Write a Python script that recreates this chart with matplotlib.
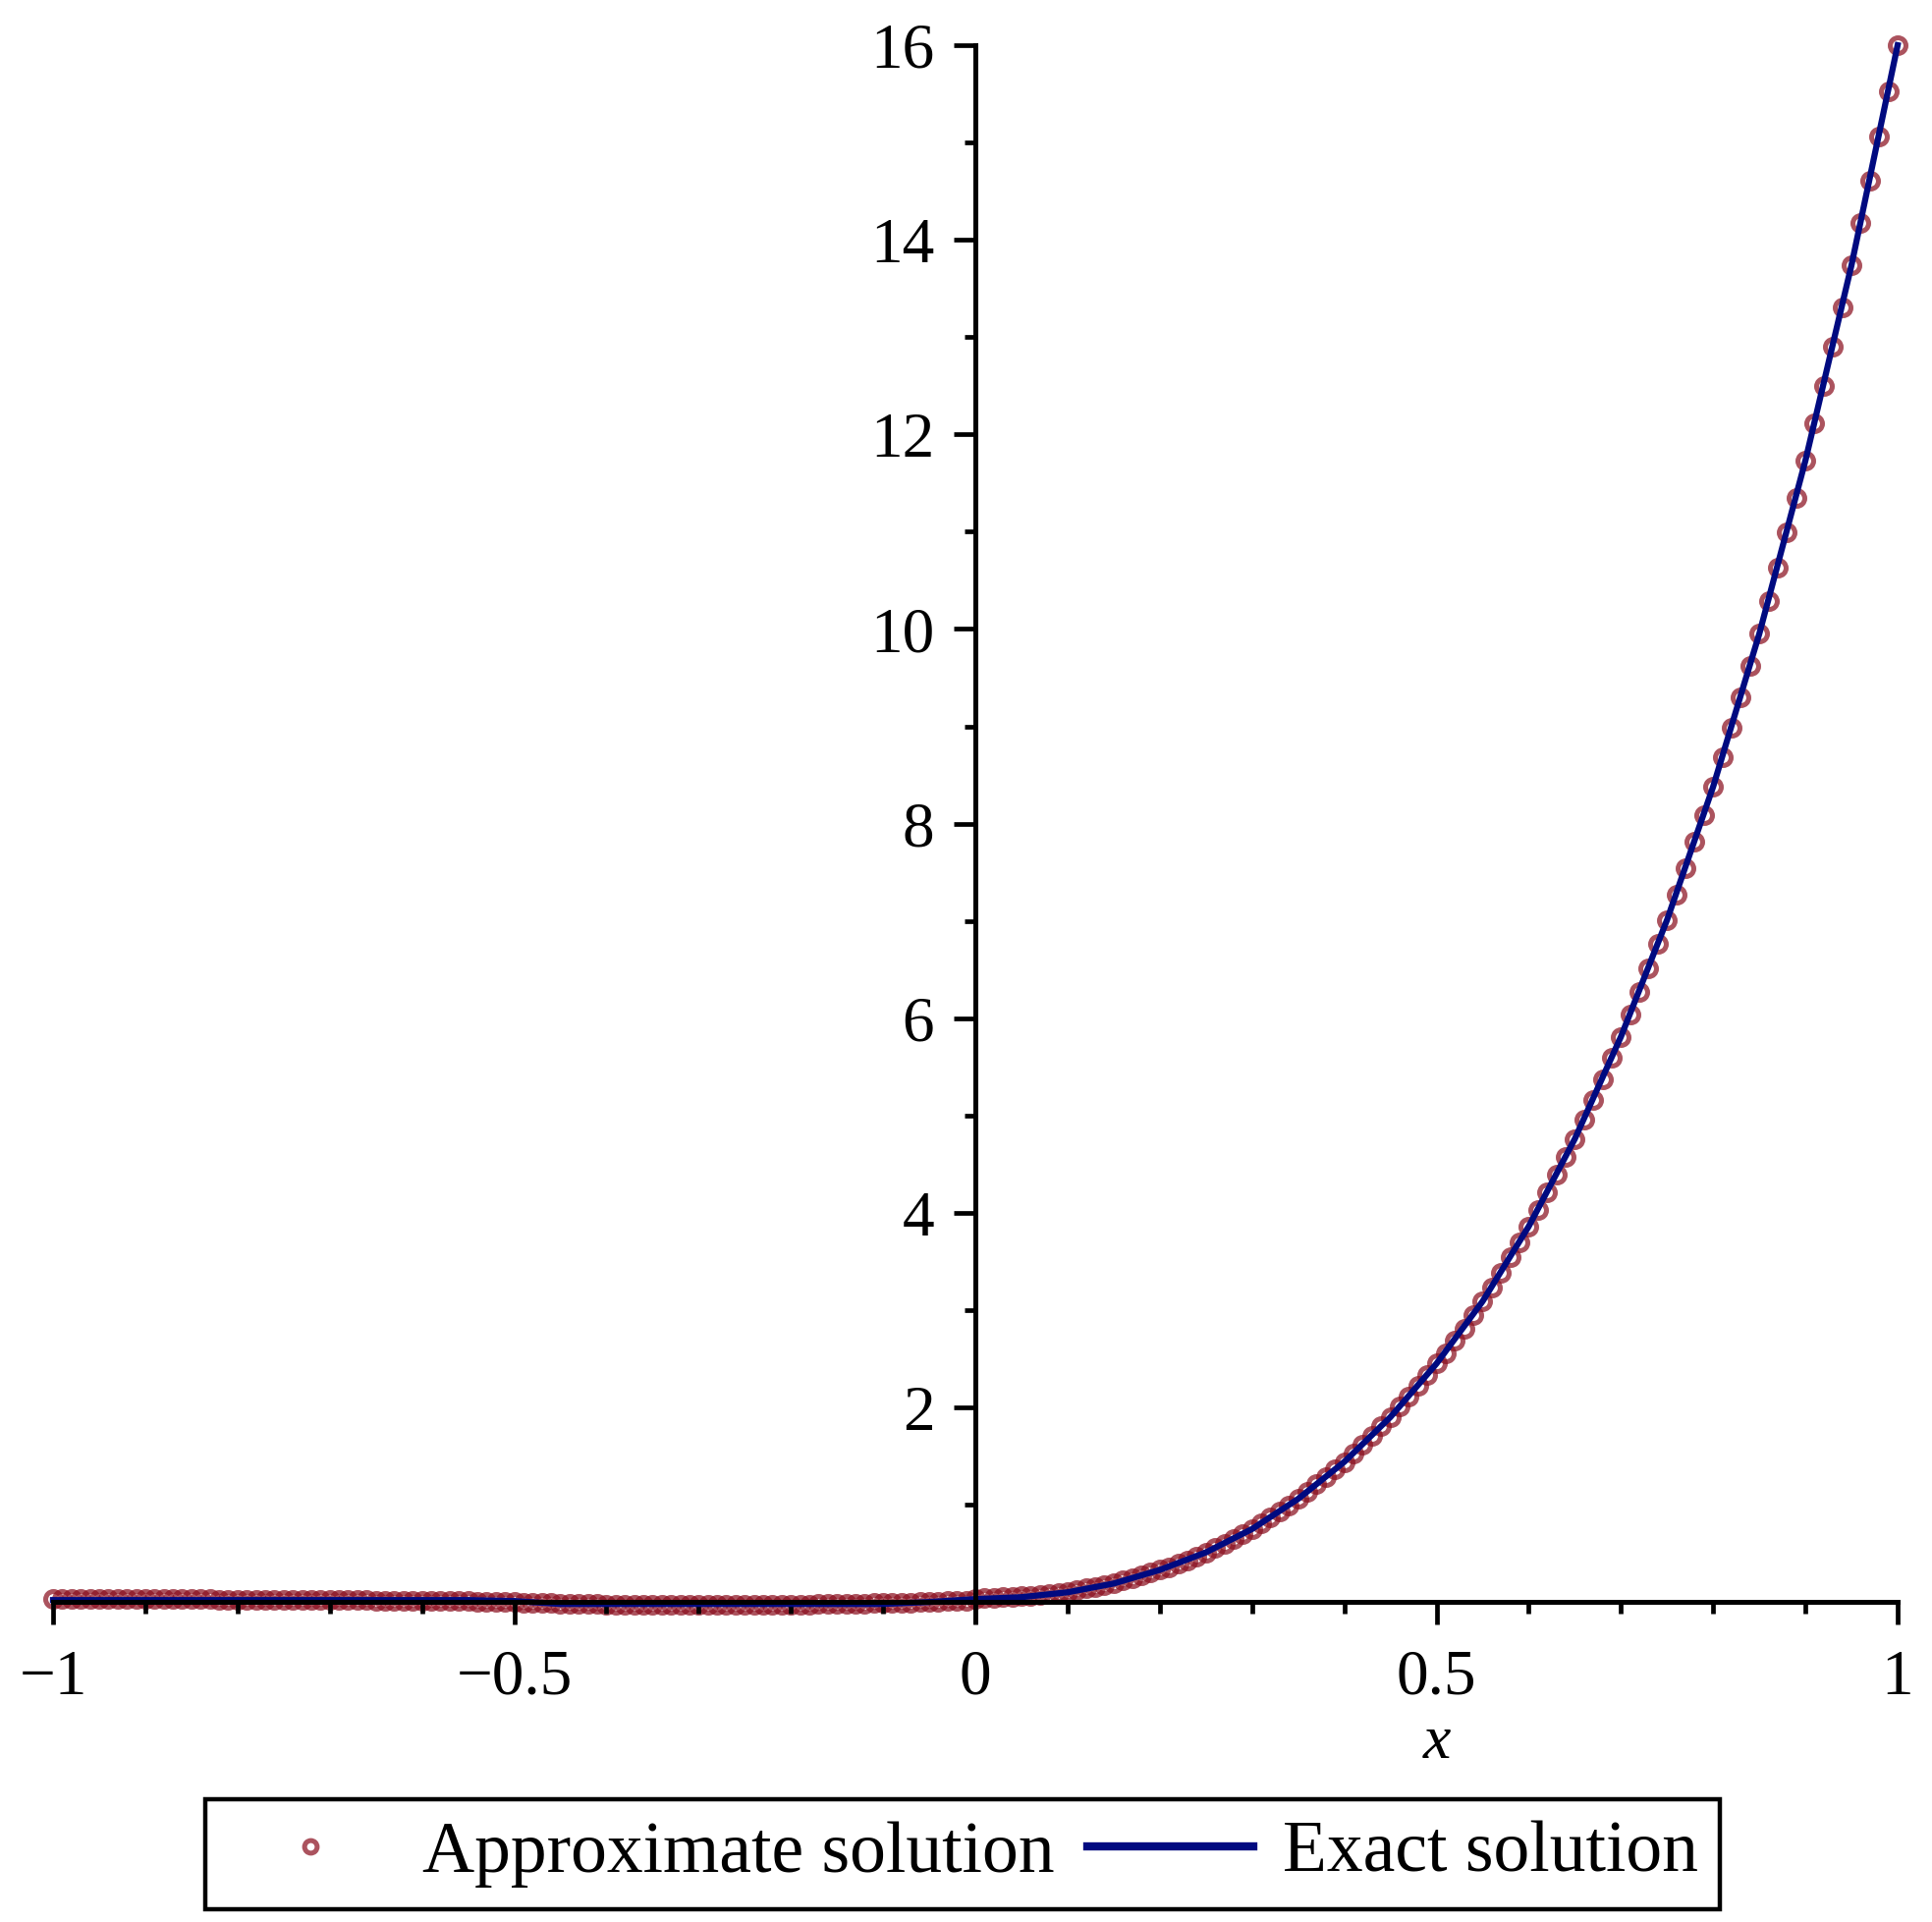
import numpy as np
from matplotlib import pyplot as plt
from matplotlib.ticker import MultipleLocator

# approximate solution, sampled every 0.01 from -1 to 1
approx_x = np.linspace(-1, 1, 201)
approx_y = [
    0.03, 0.03, 0.03, 0.03, 0.03, 0.03, 0.03, 0.03, 0.03, 0.03,
    0.03, 0.03, 0.03, 0.03, 0.03, 0.03, 0.03, 0.03, 0.02, 0.02,
    0.02, 0.02, 0.02, 0.02, 0.02, 0.02, 0.02, 0.02, 0.02, 0.02,
    0.02, 0.02, 0.02, 0.02, 0.02, 0.01, 0.01, 0.01, 0.01, 0.01,
    0.01, 0.01, 0.01, 0.01, 0.01, 0.01, 0.00, 0.00, 0.00, 0.00,
    0.00, -0.01, -0.01, -0.01, -0.01, -0.02, -0.02, -0.02, -0.02, -0.02,
    -0.03, -0.03, -0.03, -0.03, -0.03, -0.03, -0.03, -0.03, -0.03, -0.03,
    -0.03, -0.03, -0.03, -0.03, -0.03, -0.03, -0.03, -0.03, -0.03, -0.03,
    -0.03, -0.03, -0.03, -0.02, -0.02, -0.02, -0.02, -0.02, -0.02, -0.01,
    -0.01, -0.01, -0.01, -0.01, 0.00, 0.00, 0.00, 0.01, 0.01, 0.01,
    0.03, 0.04, 0.04, 0.05, 0.05, 0.06, 0.06, 0.07, 0.08, 0.09,
    0.10, 0.12, 0.14, 0.15, 0.17, 0.19, 0.22, 0.24, 0.27, 0.30,
    0.33, 0.36, 0.40, 0.43, 0.47, 0.51, 0.56, 0.60, 0.65, 0.70,
    0.75, 0.81, 0.87, 0.93, 0.99, 1.06, 1.13, 1.21, 1.28, 1.36,
    1.44, 1.53, 1.62, 1.71, 1.81, 1.90, 2.01, 2.11, 2.22, 2.33,
    2.45, 2.56, 2.69, 2.81, 2.95, 3.09, 3.23, 3.38, 3.54, 3.70,
    3.86, 4.03, 4.21, 4.39, 4.57, 4.76, 4.96, 5.16, 5.37, 5.59,
    5.81, 6.04, 6.27, 6.51, 6.76, 7.01, 7.27, 7.54, 7.81, 8.09,
    8.38, 8.68, 8.99, 9.30, 9.62, 9.95, 10.29, 10.63, 10.99, 11.35,
    11.73, 12.11, 12.50, 12.90, 13.31, 13.74, 14.17, 14.61, 15.06, 15.53,
    16.00,
]

# exact solution, every 0.05
exact_x = np.linspace(-1, 1, 41)
exact_y = [
    0.02, 0.02, 0.02, 0.02, 0.02, 0.02, 0.02, 0.02, 0.02, 0.02,
    0.01, -0.02, -0.02, -0.02, -0.02, -0.02, -0.02, -0.02, -0.02, 0.00,
    0.03, 0.05, 0.10, 0.19, 0.33, 0.51, 0.75, 1.06, 1.44, 1.90,
    2.45, 3.09, 3.86, 4.76, 5.81, 7.01, 8.38, 9.95, 11.73, 13.74,
    16.00,
]

xtick_vals = [-1, -0.5, 0, 0.5, 1]
xtick_labels = ["\u22121", "\u22120.5", "0", "0.5", "1"]
ytick_vals = [2, 4, 6, 8, 10, 12, 14, 16]
ytick_labels = ["2", "4", "6", "8", "10", "12", "14", "16"]

plt.rcParams["font.family"] = ["Liberation Serif", "DejaVu Serif"]

W, H = 1967, 1957
fig = plt.figure(figsize=(W / 100, H / 100), dpi=100)
ax = fig.add_axes([54 / W, (H - 1651) / H, (1932 - 54) / W, (1651 - 46) / H])

ax.plot(approx_x, approx_y, linestyle="none", marker="o", ms=11.5, mfc="none",
        mec="#8b1020", mew=3.6, alpha=0.72, clip_on=False, zorder=1.5,
        label="Approximate solution")
ax.plot(exact_x, exact_y, color="#000a80", lw=4.5, clip_on=False, zorder=2,
        label="Exact solution")

ax.set_xlim(-1, 1)
ax.set_ylim(-0.2, 16)

# axes crossing at the origin
ax.spines["left"].set_position(("data", 0))
ax.spines["bottom"].set_position(("data", 0))
ax.spines["top"].set_visible(False)
ax.spines["right"].set_visible(False)
for s in ["left", "bottom"]:
    ax.spines[s].set_linewidth(3.6)
    ax.spines[s].set_zorder(3)

ax.set_xticks(xtick_vals)
ax.set_xticklabels(xtick_labels)
ax.set_yticks(ytick_vals)
ax.set_yticklabels(ytick_labels)
ax.xaxis.set_minor_locator(MultipleLocator(0.1))
ax.yaxis.set_minor_locator(MultipleLocator(1))

ax.tick_params(axis="x", which="major", direction="out", length=16.5, width=3.4,
               labelsize=47, pad=18)
ax.tick_params(axis="x", which="minor", direction="out", length=8.5, width=3.4)
ax.tick_params(axis="y", which="major", direction="out", length=16, width=3.4,
               labelsize=47, pad=14)
ax.tick_params(axis="y", which="minor", direction="out", length=8, width=3.4)

ax.set_xlabel("x", fontsize=46, style="italic")
ax.xaxis.label.set_va("center")
ax.xaxis.set_label_coords(0.75, -(1775 - 1651) / (1651 - 46))

leg = fig.legend(loc="center", bbox_to_anchor=(980 / W, (H - 1888) / H),
                 ncol=2, fontsize=53, frameon=True, fancybox=False,
                 edgecolor="black", framealpha=1, borderpad=0.3,
                 handlelength=2.3, handletextpad=0.4, columnspacing=0.45,
                 markerscale=0.8)
leg.get_frame().set_linewidth(3.2)
leg.get_lines()[1].set_linewidth(6)

fig.savefig("out.png", dpi=100)
